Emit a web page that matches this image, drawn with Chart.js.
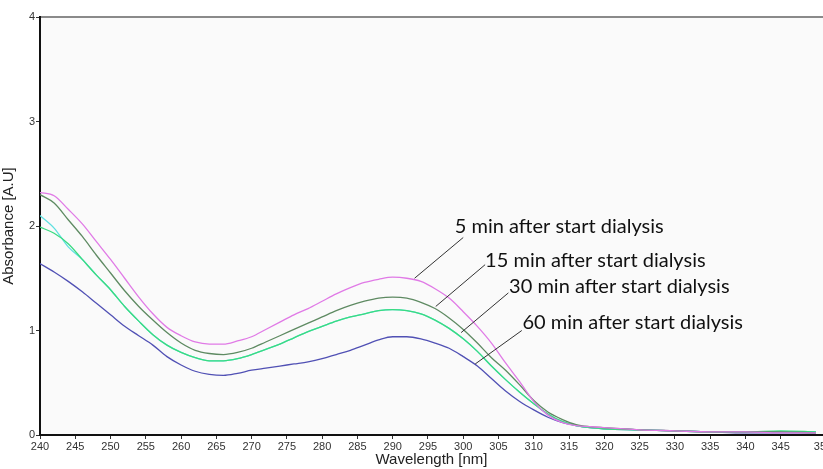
<!DOCTYPE html>
<html lang="en">
<head>
    <meta charset="UTF-8">
    <title>Absorbance during dialysis</title>
    <style>
        html, body {
            margin: 0;
            padding: 0;
            background: #FFFFFF;
            overflow: hidden;
        }
        #chart-container {
            width: 823px;
            height: 469px;
        }
    </style>
    <script src="https://cdn.jsdelivr.net/npm/chart.js"></script>
</head>
<body>
    <div id="chart-container">
        <canvas id="specChart"></canvas>
    </div>

    <script>
        const wavelengths = [240, 242, 244, 246, 248, 250, 252, 254, 256, 258, 260, 262, 264, 266, 268, 270,
            272, 274, 276, 278, 280, 282, 284, 286, 288, 290, 292, 294, 296, 298, 300, 302, 304, 306, 308,
            310, 312, 314, 316, 318, 320, 325, 330, 335, 340, 345, 350];

        // Absorbance per series
        const abs5min = [2.32, 2.29, 2.16, 2.02, 1.85, 1.68, 1.50, 1.32, 1.16, 1.03, 0.95, 0.89, 0.87, 0.87, 0.90, 0.94,
            1.01, 1.08, 1.15, 1.21, 1.28, 1.35, 1.41, 1.46, 1.49, 1.51, 1.50, 1.47, 1.40, 1.31, 1.18, 1.04, 0.88, 0.69, 0.51,
            0.32, 0.19, 0.12, 0.09, 0.08, 0.07, 0.05, 0.04, 0.03, 0.03, 0.02, 0.02];
        const abs15min = [2.30, 2.22, 2.06, 1.90, 1.72, 1.55, 1.38, 1.23, 1.10, 0.98, 0.88, 0.81, 0.78, 0.77, 0.79, 0.83,
            0.89, 0.95, 1.01, 1.07, 1.13, 1.19, 1.24, 1.28, 1.31, 1.32, 1.31, 1.27, 1.21, 1.12, 1.01, 0.88, 0.74, 0.62, 0.48,
            0.33, 0.22, 0.15, 0.10, 0.08, 0.07, 0.05, 0.04, 0.03, 0.03, 0.03, 0.02];
        const abs30min = [1.99, 1.93, 1.83, 1.68, 1.53, 1.39, 1.23, 1.09, 0.96, 0.86, 0.79, 0.74, 0.71, 0.71, 0.73, 0.77,
            0.82, 0.87, 0.93, 0.99, 1.04, 1.09, 1.13, 1.16, 1.19, 1.20, 1.19, 1.16, 1.10, 1.02, 0.92, 0.80, 0.66, 0.53, 0.41,
            0.30, 0.20, 0.13, 0.09, 0.07, 0.06, 0.05, 0.04, 0.03, 0.03, 0.04, 0.03];
        const absCyan = [2.10, 1.98, 1.80, 1.68, 1.53, 1.39, 1.23, 1.09, 0.96, 0.86, 0.79, 0.74, 0.71, 0.71, 0.73, 0.77,
            0.82, 0.87, 0.93, 0.99, 1.04, 1.09, 1.13, 1.16, 1.19, 1.20, 1.19, 1.16, 1.10, 1.02, 0.92, 0.80, 0.66, 0.53, 0.41,
            0.30, 0.20, 0.13, 0.09, 0.07, 0.06, 0.05, 0.04, 0.03, 0.03, 0.03, 0.03];
        const abs60min = [1.64, 1.56, 1.47, 1.37, 1.26, 1.15, 1.04, 0.95, 0.86, 0.75, 0.67, 0.61, 0.58, 0.57, 0.59, 0.62,
            0.64, 0.66, 0.68, 0.70, 0.73, 0.77, 0.81, 0.86, 0.91, 0.94, 0.94, 0.92, 0.88, 0.83, 0.75, 0.66, 0.54, 0.42, 0.32,
            0.24, 0.17, 0.12, 0.09, 0.07, 0.06, 0.05, 0.04, 0.03, 0.02, 0.02, 0.02];

        const yTicks = [0, 1, 2, 3, 4];

        // Callout labels: text, point on the curve, end of the leader line, text anchor (all in data units)
        const calloutText = ["5 min after start dialysis", "15 min after start dialysis",
            "30 min after start dialysis", "60 min after start dialysis"];
        const calloutFrom = [[293.1, 1.50], [296.1, 1.23], [299.7, 0.98], [301.7, 0.68]];
        const calloutTo = [[300.0, 1.89], [303.1, 1.63], [306.4, 1.36], [308.3, 1.00]];
        const calloutAt = [[298.8, 1.99], [303.1, 1.67], [306.5, 1.42], [308.4, 1.08]];

        const toPoints = values => wavelengths.map((w, i) => ({ x: w, y: values[i] }));

        function series(values, color) {
            return {
                data: toPoints(values),
                borderColor: color,
                borderWidth: 1.3,
                pointRadius: 0,
                fill: false,
                tension: 0.4,
                cubicInterpolationMode: "monotone"
            };
        }

        // Light grey plot area plus the grey frame line on top
        const plotBackground = {
            id: "plotBackground",
            beforeDraw(chart) {
                const { ctx, chartArea: a } = chart;
                ctx.save();
                ctx.fillStyle = "#FAFAFA";
                ctx.fillRect(a.left, a.top, a.right - a.left, a.bottom - a.top);
                ctx.strokeStyle = "#8A8A8A";
                ctx.lineWidth = 2;
                ctx.beginPath();
                ctx.moveTo(a.left, a.top);
                ctx.lineTo(a.right + 10, a.top);
                ctx.stroke();
                ctx.restore();
            }
        };

        // Text labels with thin leader lines pointing at each curve
        const callouts = {
            id: "callouts",
            afterDatasetsDraw(chart) {
                const { ctx, scales: { x, y } } = chart;
                ctx.save();
                ctx.strokeStyle = "#333333";
                ctx.lineWidth = 1;
                ctx.fillStyle = "#111111";
                ctx.font = "20px Lato, 'Open Sans', sans-serif";
                ctx.textBaseline = "middle";
                calloutText.forEach((txt, i) => {
                    ctx.beginPath();
                    ctx.moveTo(x.getPixelForValue(calloutFrom[i][0]), y.getPixelForValue(calloutFrom[i][1]));
                    ctx.lineTo(x.getPixelForValue(calloutTo[i][0]), y.getPixelForValue(calloutTo[i][1]));
                    ctx.stroke();
                    ctx.fillText(txt, x.getPixelForValue(calloutAt[i][0]), y.getPixelForValue(calloutAt[i][1]));
                });
                ctx.restore();
            }
        };

        const tickFont = { family: "'Liberation Sans', Arial, sans-serif", size: 11 };
        const titleFont = { family: "'Liberation Sans', Arial, sans-serif", size: 15 };

        const ctx = document.getElementById("specChart").getContext("2d");

        // Chart.js paints the first dataset last, so the list runs top to bottom
        new Chart(ctx, {
            type: "line",
            data: {
                datasets: [
                    series(abs5min, "#E07AE6"),
                    series(abs15min, "#5E8A62"),
                    series(abs30min, "#3ADB80"),
                    series(absCyan, "#5FE0E0"),
                    series(abs60min, "#5050B4")
                ]
            },
            options: {
                responsive: true,
                maintainAspectRatio: false,
                animation: false,
                layout: { padding: { top: 17, left: 0, right: 0, bottom: 0 } },
                plugins: {
                    legend: { display: false },
                    tooltip: { enabled: false }
                },
                scales: {
                    x: {
                        type: "linear",
                        min: 240,
                        max: 351,
                        border: { color: "#111111", width: 2 },
                        grid: { drawOnChartArea: false, color: "#333333", tickLength: 4 },
                        ticks: {
                            stepSize: 5,
                            autoSkip: false,
                            maxRotation: 0,
                            padding: 1,
                            color: "#333333",
                            font: tickFont
                        },
                        title: {
                            display: true,
                            text: "Wavelength [nm]",
                            color: "#222222",
                            padding: { top: 0, bottom: 0 },
                            font: titleFont
                        },
                        afterFit(scale) {
                            scale.paddingLeft = 0;
                            scale.paddingRight = 0;
                            scale.height = 34;
                        }
                    },
                    y: {
                        min: 0,
                        max: 4,
                        afterBuildTicks(scale) {
                            scale.ticks = yTicks.map(v => ({ value: v }));
                        },
                        border: { color: "#111111", width: 2 },
                        grid: { drawOnChartArea: false, color: "#333333", tickLength: 4 },
                        ticks: {
                            padding: 1,
                            color: "#333333",
                            font: tickFont
                        },
                        title: {
                            display: true,
                            text: "Absorbance [A.U]",
                            color: "#222222",
                            padding: { top: 0, bottom: 1 },
                            font: titleFont
                        },
                        afterFit(scale) {
                            scale.width = 40;
                        }
                    }
                }
            },
            plugins: [plotBackground, callouts]
        });
    </script>
</body>
</html>
